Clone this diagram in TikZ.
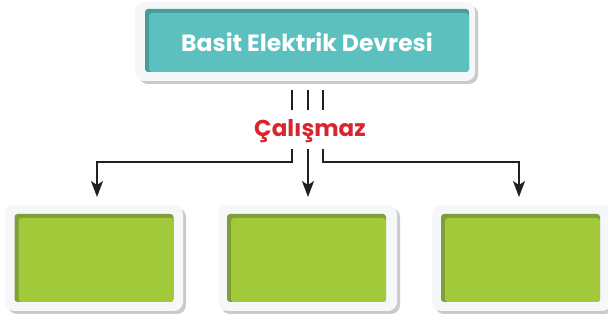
\documentclass[tikz,border=0pt]{standalone}
\usepackage{fontspec}
\setmainfont{Poppins}
\usetikzlibrary{arrows.meta,calc}
\definecolor{tealA}{HTML}{5BC0BE}
\definecolor{tealD}{HTML}{479C9A}
\definecolor{greenA}{HTML}{A2C93A}
\definecolor{greenD}{HTML}{7E9F3A}
\definecolor{frameW}{HTML}{F6F7F9}
\definecolor{shadowG}{HTML}{C9CACC}
\definecolor{redT}{HTML}{D9262E}
\definecolor{lineK}{HTML}{231F20}
\tikzset{
  framebox/.style={fill=frameW,rounded corners=9pt},
  shadowbox/.style={fill=shadowG,rounded corners=9pt},
  tealbox/.style={fill=tealD,rounded corners=3pt,inner sep=0pt,minimum width=324pt,minimum height=63pt,
    path picture={\fill[tealA] ([xshift=4pt,yshift=-4pt]path picture bounding box.north west) rectangle (path picture bounding box.south east);}},
  greenbox/.style={fill=greenD,rounded corners=3pt,inner sep=0pt,minimum width=159pt,minimum height=88pt,
    path picture={\fill[greenA] ([xshift=4pt,yshift=-4pt]path picture bounding box.north west) rectangle (path picture bounding box.south east);}},
  conn/.style={draw=lineK,line width=1.8pt},
  arr/.style={conn,-{Stealth[length=16pt,width=12pt,inset=4pt]}}
}
\begin{document}
\begin{tikzpicture}[x=1pt,y=-1pt]
\useasboundingbox (0,0) rectangle (608,320);
% frames
\fill[shadowbox] (139,5) rectangle (478,84);
\fill[framebox] (135,2) rectangle (475,81);
\foreach \a/\b in {5/183,218/397,432/611}{
  \fill[shadowbox] (\a+3,208) rectangle (\b+3,314);
  \fill[framebox] (\a,205) rectangle (\b,311);
}
\node[tealbox] (top) at (307,40.5) {};
\node[text=white,font=\bfseries\fontsize{23.5}{26}\selectfont] (title) at (307,42) {Basit Elektrik Devresi};
\node[greenbox] (b1) at (94,258) {};
\node[greenbox] (b2) at (306.5,258) {};
\node[greenbox] (b3) at (520.5,258) {};
\node[text=redT,font=\bfseries\fontsize{23}{26}\selectfont] (lbl) at (310,131) {Çalışmaz};
% short lines above label
\coordinate (u1) at (292,90); \coordinate (v1) at (292,110);
\coordinate (u2) at (308,90); \coordinate (v2) at (308,110);
\coordinate (u3) at (323,90); \coordinate (v3) at (323,110);
\draw[conn] (u1) -- (v1);
\draw[conn] (u2) -- (v2);
\draw[conn] (u3) -- (v3);
% arrows below label
\coordinate (s1) at (292,149); \coordinate (s2) at (308,149); \coordinate (s3) at (323,149);
\coordinate (e1) at (97,197); \coordinate (e2) at (308,197); \coordinate (e3) at (519,197);
\draw[arr] (s1) |- (97,162) -- (e1);
\draw[arr] (s2) -- (e2);
\draw[arr] (s3) |- (519,162) -- (e3);
\end{tikzpicture}
\end{document}
